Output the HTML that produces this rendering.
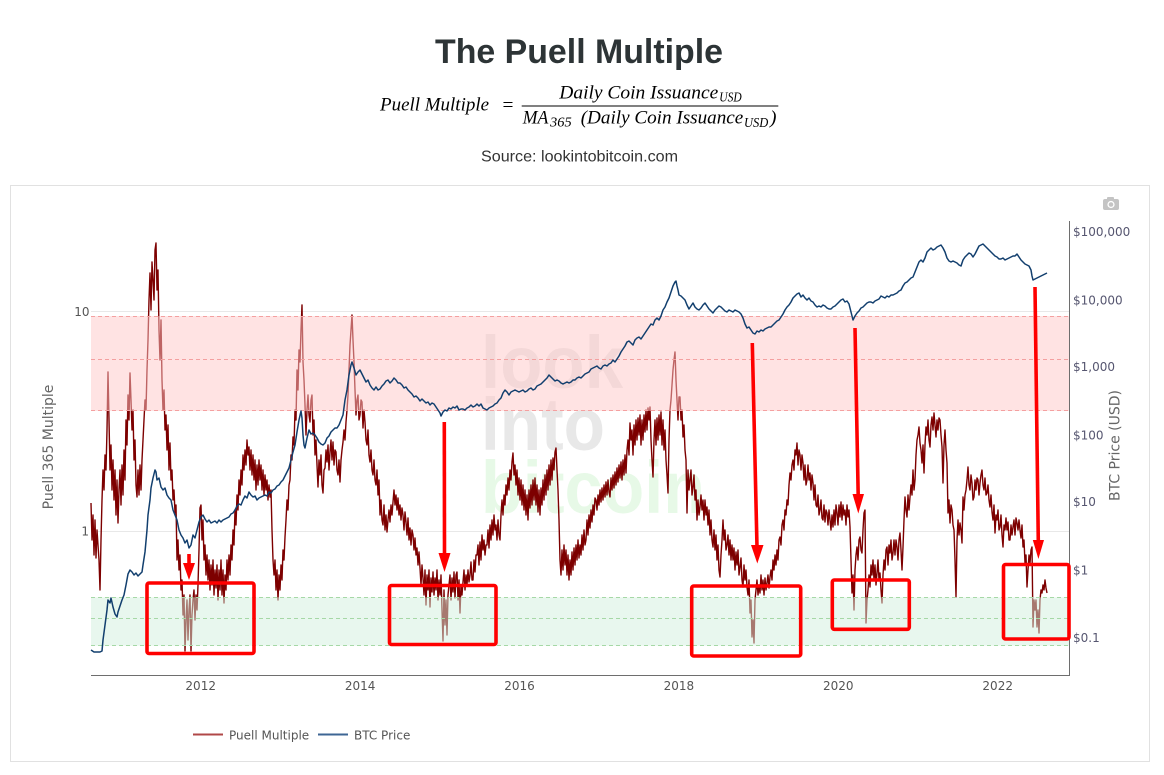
<!DOCTYPE html>
<html><head><meta charset="utf-8"><style>
html,body{margin:0;padding:0;background:#fff;}
svg{display:block;}
</style></head><body>
<svg width="1164" height="775" viewBox="0 0 1164 775" xmlns="http://www.w3.org/2000/svg">
<rect x="0" y="0" width="1164" height="775" fill="#fff"/>
<!-- Title -->
<text x="579" y="63" text-anchor="middle" font-family="Liberation Sans, Arial, sans-serif" font-weight="bold" font-size="34" textLength="288" lengthAdjust="spacingAndGlyphs" fill="#2d3436">The Puell Multiple</text>
<!-- Formula -->
<g font-family="Liberation Serif, DejaVu Serif, serif" fill="#000">
<text x="380" y="110.7" font-style="italic" font-size="19.4" textLength="109" lengthAdjust="spacingAndGlyphs">Puell Multiple</text>
<text x="502.5" y="111" font-size="19.4">=</text>
<line x1="521.7" y1="106" x2="778.3" y2="106" stroke="#000" stroke-width="0.9"/>
<text x="559.3" y="98.3" font-style="italic" font-size="19.4" textLength="159" lengthAdjust="spacingAndGlyphs">Daily Coin Issuance</text>
<text x="719.3" y="101.7" font-style="italic" font-size="13.5" textLength="22.4" lengthAdjust="spacingAndGlyphs">USD</text>
<text x="522.7" y="123.3" font-style="italic" font-size="19.4" textLength="25.6" lengthAdjust="spacingAndGlyphs">MA</text>
<text x="550" y="126.5" font-style="italic" font-size="13.5" textLength="21.7" lengthAdjust="spacingAndGlyphs">365</text>
<text x="580.7" y="123.3" font-style="italic" font-size="19.4" textLength="162.6" lengthAdjust="spacingAndGlyphs">(Daily Coin Issuance</text>
<text x="744" y="127" font-style="italic" font-size="13.5" textLength="24.3" lengthAdjust="spacingAndGlyphs">USD</text>
<text x="770" y="123.3" font-style="italic" font-size="19.4">)</text>
</g>
<text x="579.5" y="161.7" text-anchor="middle" font-family="Liberation Sans, Arial, sans-serif" font-size="16" textLength="197" lengthAdjust="spacingAndGlyphs" fill="#333">Source: lookintobitcoin.com</text>

<!-- Chart container -->
<rect x="10.5" y="185.5" width="1139" height="576" fill="#fff" stroke="#e1e1e1" stroke-width="1"/>

<!-- camera icon -->
<g fill="#c4c4c4">
<rect x="1103" y="199" width="16" height="11" rx="2"/>
<rect x="1107" y="197" width="7" height="3" rx="1"/>
<circle cx="1111" cy="204.5" r="3.6" fill="#fff"/>
<circle cx="1111" cy="204.5" r="2.3" fill="#c4c4c4"/>
</g>

<!-- watermark -->
<g font-family="Liberation Sans, Arial, sans-serif" font-weight="bold" font-size="74">
<text x="481" y="388" textLength="142" lengthAdjust="spacingAndGlyphs" fill="#e8e8e8">look</text>
<text x="481" y="450" textLength="124" lengthAdjust="spacingAndGlyphs" fill="#e8e8e8">into</text>
<text x="481" y="513" textLength="224" lengthAdjust="spacingAndGlyphs" fill="#e7f9e7">bitcoin</text>
</g>

<!-- gridlines -->
<line x1="91" y1="311.5" x2="1069" y2="311.5" stroke="#e8e8e8" stroke-width="1"/>
<line x1="91" y1="531.5" x2="1069" y2="531.5" stroke="#e8e8e8" stroke-width="1"/>

<!-- Puell Multiple -->
<polyline fill="none" stroke="#7d0000" stroke-width="1.4" stroke-linejoin="round" points="91,503 92,540 93,515 94,555 95,520 96,558 97,530 98,545 99,560 100,590 101,540 102,500 103,470 104,490 105,455 106,470 107,430 108,372 109,420 110,470 111,445 112,490 113,460 114,500 115,470 116,515 117,480 118,523 119,490 120,470 121,505 122,465 123,495 124,450 125,480 126,420 127,445 128,395 129,420 130,373 131,400 132,430 133,410 134,460 135,440 136,485 137,497 138,470 139,495 140,465 141,490 142,460 143,440 144,420 145,400 146,410 147,370 148,340 149,300 150,273 151,310 152,262 153,280 154,300 155,250 156,243 157,290 158,270 159,330 160,360 161,320 162,380 163,410 164,390 165,430 166,415 167,450 168,425 169,470 170,443 171,480 172,470 173,500 174,490 175,513 176,505 177,560 178,540 179,570 180,555 181,590 182,580 183,615 184,595 185,651 186,620 187,600 188,640 189,610 190,595 191,651 192,615 193,600 194,590 195,620 196,595 197,610 198,585 199,550 200,508 201,505 202,540 203,520 204,560 205,545 206,575 207,555 208,580 209,560 210,590 211,565 212,585 213,560 214,595 215,570 216,588 217,565 218,600 219,570 220,590 221,560 222,595 223,570 224,603 225,575 226,590 227,560 228,580 229,555 230,575 231,545 232,560 233,530 234,545 235,510 236,525 237,495 238,510 239,480 240,495 241,470 242,485 243,455 244,470 245,450 246,465 247,440 248,455 249,447 250,470 251,450 252,475 253,455 254,480 255,460 256,490 257,465 258,485 259,460 260,480 261,465 262,490 263,470 264,495 265,475 266,490 267,480 268,500 269,485 270,497 271,490 272,530 273,560 274,575 275,560 276,590 277,570 278,600 279,575 280,590 281,565 282,580 283,550 284,560 285,537 286,520 287,500 288,510 289,485 290,480 291,455 292,460 293,437 294,445 295,410 296,420 297,370 298,390 299,350 300,362 301,330 302,305 303,362 304,380 305,405 306,435 307,410 308,395 309,415 310,422 311,400 312,395 313,435 314,420 315,455 316,440 317,465 318,487 319,460 320,475 321,455 322,485 323,493 324,470 325,468 326,450 327,462 328,445 329,470 330,452 331,440 332,460 333,442 334,465 335,450 336,452 337,470 338,475 339,460 340,482 341,460 342,450 343,442 344,430 345,440 346,422 347,410 348,395 349,370 350,345 351,330 352,315 353,340 354,362 355,390 356,415 357,400 358,395 359,420 360,415 361,400 362,402 363,428 364,410 365,422 366,440 367,445 368,430 369,455 370,462 371,450 372,470 373,475 374,460 375,480 376,485 377,470 378,495 379,480 380,515 381,500 382,520 383,525 384,505 385,530 386,515 387,532 388,520 389,510 390,522 391,505 392,515 393,502 394,490 395,505 396,495 397,510 398,498 399,515 400,505 401,520 402,508 403,515 404,530 405,512 406,522 407,535 408,518 409,540 410,528 411,545 412,530 413,535 414,550 415,538 416,555 417,548 418,565 419,552 420,568 421,585 422,565 423,578 424,595 425,570 426,605 427,575 428,590 429,570 430,607 431,578 432,592 433,572 434,595 435,578 436,590 437,570 438,600 439,580 440,595 441,575 442,610 443,641 444,590 445,625 446,600 447,635 448,595 449,585 450,575 451,600 452,578 453,592 454,572 455,598 456,575 457,572 458,600 459,580 460,613 461,585 462,595 463,582 464,570 465,590 466,575 467,585 468,570 469,582 470,575 471,562 472,580 473,580 474,560 475,572 476,555 477,555 478,545 479,565 480,542 481,560 482,535 483,550 484,540 485,555 486,545 487,545 488,530 489,548 490,525 491,540 492,520 493,535 494,515 495,530 496,525 497,540 498,520 499,535 500,540 501,515 502,500 503,515 504,495 505,505 506,485 507,495 508,478 509,490 510,470 511,480 512,462 513,453 514,475 515,465 516,485 517,470 518,495 519,478 520,500 521,480 522,505 523,485 524,510 525,490 526,515 527,495 528,520 529,490 530,508 531,485 532,505 533,480 534,500 535,478 536,505 537,485 538,512 539,490 540,515 541,488 542,505 543,480 544,500 545,475 546,495 547,470 548,490 549,465 550,485 551,460 552,480 553,458 554,470 555,452 556,448 557,470 558,490 559,520 560,560 561,575 562,550 563,570 564,545 565,565 566,550 567,575 568,555 569,580 570,560 571,575 572,552 573,570 574,548 575,565 576,545 577,560 578,540 579,558 580,545 581,555 582,535 583,550 584,530 585,545 586,540 587,520 588,535 589,515 590,528 591,510 592,522 593,505 594,515 595,498 596,500 597,510 598,495 599,505 600,490 601,502 602,488 603,500 604,485 605,497 606,482 607,495 608,480 609,492 610,497 611,478 612,490 613,475 614,488 615,472 616,485 617,468 618,482 619,465 620,478 621,462 622,480 623,460 624,475 625,455 626,473 627,450 628,440 629,455 630,423 631,440 632,430 633,455 634,425 635,445 636,420 637,440 638,418 639,435 640,415 641,445 642,420 643,440 644,415 645,432 646,410 647,430 648,408 649,420 650,407 651,440 652,460 653,477 654,440 655,420 656,445 657,418 658,440 659,415 660,435 661,412 662,445 663,420 664,450 665,430 666,460 667,475 668,493 669,440 670,410 671,400 672,385 673,370 674,360 675,352 676,380 677,400 678,420 679,397 680,397 681,420 682,410 683,437 684,425 685,450 686,460 687,513 688,470 689,490 690,480 691,470 692,495 693,487 694,475 695,500 696,490 697,520 698,500 699,515 700,507 701,495 702,510 703,500 704,520 705,500 706,515 707,507 708,525 709,510 710,535 711,520 712,540 713,547 714,530 715,550 716,535 717,560 718,545 719,570 720,577 721,555 722,540 723,520 724,540 725,530 726,550 727,545 728,535 729,555 730,540 731,560 732,545 733,560 734,548 735,570 736,552 737,565 738,550 739,575 740,567 741,558 742,580 743,587 744,565 745,580 746,570 747,587 748,595 749,580 750,613 751,600 752,637 753,620 754,643 755,600 756,590 757,580 758,595 759,585 760,593 761,575 762,590 763,580 764,595 765,578 766,590 767,583 768,575 769,588 770,577 771,570 772,580 773,560 774,570 775,555 776,565 777,550 778,560 779,540 780,537 781,545 782,525 783,520 784,530 785,510 786,515 787,500 788,505 789,485 790,473 791,480 792,465 793,460 794,470 795,450 796,455 797,443 798,465 799,450 800,455 801,470 802,455 803,463 804,480 805,465 806,485 807,480 808,465 809,480 810,473 811,490 812,475 813,483 814,500 815,485 816,505 817,507 818,495 819,515 820,510 821,500 822,518 823,520 824,505 825,522 826,510 827,513 828,525 829,510 830,520 831,530 832,515 833,527 834,510 835,525 836,505 837,513 838,525 839,505 840,517 841,502 842,520 843,505 844,515 845,510 846,525 847,505 848,517 849,510 850,527 851,560 852,593 853,575 854,610 855,570 856,555 857,547 858,560 859,540 860,537 861,550 862,553 863,530 864,513 865,510 866,623 867,600 868,590 869,575 870,587 871,565 872,575 873,560 874,580 875,565 876,585 877,573 878,560 879,580 880,573 881,590 882,603 883,575 884,560 885,570 886,550 887,547 888,565 889,545 890,553 891,540 892,560 893,553 894,540 895,555 896,540 897,547 898,560 899,540 900,533 901,550 902,570 903,547 904,520 905,497 906,510 907,517 908,495 909,510 910,497 911,485 912,495 913,470 914,490 915,480 916,455 917,440 918,435 919,427 920,443 921,450 922,463 923,445 924,473 925,445 926,427 927,435 928,420 929,440 930,447 931,425 932,417 933,430 934,413 935,425 936,437 937,420 938,430 939,418 940,420 941,435 942,447 943,483 944,445 945,430 946,450 947,463 948,513 949,500 950,523 951,505 952,510 953,525 954,530 955,560 956,597 957,540 958,520 959,535 960,523 961,530 962,543 963,497 964,510 965,495 966,490 967,480 968,467 969,485 970,490 971,475 972,483 973,500 974,497 975,480 976,490 977,478 978,480 979,495 980,483 981,475 982,470 983,485 984,490 985,478 986,495 987,493 988,485 989,500 990,507 991,495 992,512 993,520 994,505 995,533 996,515 997,520 998,510 999,530 1000,527 1001,515 1002,535 1003,547 1004,525 1005,530 1006,518 1007,530 1008,522 1009,540 1010,540 1011,525 1012,535 1013,527 1014,520 1015,535 1016,518 1017,523 1018,530 1019,520 1020,530 1021,538 1022,525 1023,547 1024,540 1025,563 1026,555 1027,587 1028,570 1029,555 1030,563 1031,550 1032,547 1033,627 1034,600 1035,610 1036,600 1037,627 1038,610 1039,633 1040,600 1041,590 1042,593 1043,585 1044,590 1045,580 1046,588 1047,593"/>

<!-- Bands -->
<rect x="91" y="316" width="978" height="95" fill="rgb(255,200,200)" fill-opacity="0.5"/>
<rect x="91" y="597.3" width="978" height="48.4" fill="rgb(210,240,222)" fill-opacity="0.5"/>
<g stroke-width="1" stroke-dasharray="4,3" fill="none">
<line x1="91" y1="316.5" x2="1069" y2="316.5" stroke="#f4a0a0"/>
<line x1="91" y1="359.5" x2="1069" y2="359.5" stroke="#f4a0a0"/>
<line x1="91" y1="410.5" x2="1069" y2="410.5" stroke="#f4a0a0"/>
<line x1="91" y1="597.5" x2="1069" y2="597.5" stroke="#a6d8a6"/>
<line x1="91" y1="618.5" x2="1069" y2="618.5" stroke="#a6d8a6"/>
<line x1="91" y1="645.5" x2="1069" y2="645.5" stroke="#a6d8a6"/>
</g>

<!-- BTC Price -->
<polyline fill="none" stroke="#123f6e" stroke-width="1.5" stroke-linejoin="round" points="91,650 94,652 97,652 100,652 102,651 103,640 105,625 107,610 108,600 110,603 111,598 113,607 115,614 117,617 118,612 120,606 122,600 124,595 126,585 128,574 130,570 132,572 134,575 136,573 138,576 140,574 142,572 143,565 145,552 147,530 148,515 150,500 151,488 153,478 155,470 156,472 157,480 159,478 161,487 163,490 165,488 167,495 169,498 171,500 173,510 175,515 177,520 179,530 181,535 183,538 185,543 187,540 189,548 191,545 193,535 195,538 197,530 199,522 201,517 203,515 205,519 207,522 209,520 211,523 213,522 215,521 217,523 219,520 221,522 223,520 225,519 227,518 229,517 231,514 233,513 235,510 237,506 239,504 241,505 243,500 245,496 247,498 249,492 251,495 253,497 255,496 257,500 259,498 261,497 263,496 265,495 267,496 269,492 271,493 273,490 275,489 277,486 279,485 281,482 283,480 285,476 287,472 289,468 291,460 293,452 295,445 297,432 299,420 301,411 302,418 303,435 304,445 305,448 307,438 309,430 311,434 313,433 315,435 317,438 319,442 321,444 323,445 325,443 327,438 329,436 331,432 333,430 335,428 337,428 339,425 341,420 343,415 345,400 347,390 349,375 351,365 352,362 354,368 356,375 358,372 360,370 362,374 364,378 366,382 368,380 370,385 372,388 374,390 376,387 378,390 380,389 382,386 384,384 386,381 388,380 390,383 392,381 394,378 396,380 398,383 400,383 402,385 404,388 406,387 408,390 410,392 412,394 414,397 416,396 418,398 420,401 422,399 424,401 426,403 428,402 430,405 432,403 434,404 436,407 438,410 440,413 441,416 443,412 445,410 447,411 449,408 451,409 453,407 455,408 457,406 459,410 461,409 463,409 465,410 467,408 469,407 471,405 473,407 475,406 477,404 479,406 481,404 483,408 485,409 487,410 489,408 491,407 493,406 495,404 497,403 499,400 501,398 503,393 505,390 507,392 509,395 511,392 513,391 515,390 517,391 519,392 521,391 523,390 525,392 527,391 529,389 531,388 533,390 535,389 537,386 539,385 541,384 543,382 545,380 547,378 549,375 551,377 553,379 555,381 557,380 559,381 561,383 563,384 565,383 567,382 569,383 571,382 573,380 575,380 577,378 579,377 581,378 583,376 585,374 587,373 589,372 591,369 593,368 595,367 597,366 599,368 601,369 603,366 605,365 607,366 609,364 611,363 613,360 615,362 617,359 619,356 621,352 623,349 625,346 627,342 629,341 631,343 633,345 635,340 637,338 639,337 641,339 643,336 645,333 647,330 649,327 651,324 653,325 655,320 657,318 659,320 661,316 663,310 665,307 667,302 669,298 671,292 673,286 675,282 676,281 677,286 678,290 679,295 681,296 683,298 685,300 687,305 689,309 691,306 693,303 695,307 697,309 699,310 701,308 703,305 705,303 707,306 709,309 711,311 713,313 715,310 717,308 719,306 721,307 723,309 725,311 727,312 729,310 731,311 733,312 735,310 737,311 739,312 741,314 743,318 745,324 747,328 749,327 751,330 753,333 755,334 757,331 759,332 761,330 763,331 765,329 767,328 769,327 771,327 773,325 775,323 777,321 779,320 781,317 783,314 785,310 787,307 789,305 791,302 793,298 795,296 797,294 799,293 801,297 803,295 805,298 807,300 809,298 811,301 813,302 815,305 817,307 819,306 821,307 823,305 825,306 827,308 829,309 831,309 833,307 835,306 837,304 839,302 841,300 843,299 845,302 847,301 849,304 851,312 853,320 855,316 857,313 859,311 861,308 863,307 865,305 867,303 869,302 871,302 873,303 875,301 877,300 879,299 881,296 883,297 885,298 887,296 889,297 891,295 893,295 895,294 897,293 899,291 901,290 903,286 905,283 907,282 909,280 911,278 913,277 915,272 917,267 919,262 921,260 923,262 925,258 927,252 929,250 931,248 933,250 935,249 937,247 939,246 941,245 943,248 945,252 947,258 949,261 951,262 953,261 955,262 957,263 959,265 961,266 963,260 965,257 967,255 969,253 971,254 973,257 975,254 977,250 979,246 981,245 983,244 985,246 987,248 989,250 991,252 993,254 995,256 997,257 999,259 1001,259 1003,258 1005,260 1007,259 1009,258 1011,257 1013,256 1015,256 1017,254 1019,257 1021,260 1023,262 1025,264 1027,265 1029,266 1031,270 1032,276 1033,280 1035,279 1037,278 1039,277 1041,276 1043,275 1045,274 1047,273"/>

<!-- axes -->
<line x1="91" y1="675.5" x2="1069.5" y2="675.5" stroke="#6e6e6e" stroke-width="1"/>
<line x1="1069.5" y1="221" x2="1069.5" y2="676" stroke="#6e6e6e" stroke-width="1"/>

<!-- tick labels -->
<g font-family="DejaVu Sans, Verdana, sans-serif" font-size="12" fill="#555">
<text x="89.5" y="316" text-anchor="end">10</text>
<text x="89" y="535.5" text-anchor="end">1</text>
<g text-anchor="middle">
<text x="200.7" y="690">2012</text>
<text x="360.1" y="690">2014</text>
<text x="519.5" y="690">2016</text>
<text x="678.9" y="690">2018</text>
<text x="838.3" y="690">2020</text>
<text x="997.7" y="690">2022</text>
</g>
<g fill="#565670">
<text x="1073" y="236">$100,000</text>
<text x="1073" y="304.5">$10,000</text>
<text x="1073" y="371">$1,000</text>
<text x="1073" y="439.5">$100</text>
<text x="1073" y="506">$10</text>
<text x="1073" y="574.5">$1</text>
<text x="1073" y="642">$0.1</text>
</g>
</g>
<g font-family="DejaVu Sans, Verdana, sans-serif" font-size="14" fill="#666">
<text transform="translate(53,447) rotate(-90)" text-anchor="middle">Puell 365 Multiple</text>
<text transform="translate(1119.5,445.5) rotate(-90)" text-anchor="middle">BTC Price (USD)</text>
</g>

<!-- legend -->
<line x1="193" y1="734.5" x2="223" y2="734.5" stroke="#b04848" stroke-width="2"/>
<text x="229" y="739.3" font-family="DejaVu Sans, Verdana, sans-serif" font-size="12" fill="#555">Puell Multiple</text>
<line x1="318" y1="734.5" x2="348" y2="734.5" stroke="#3e6694" stroke-width="2"/>
<text x="354" y="739.3" font-family="DejaVu Sans, Verdana, sans-serif" font-size="12" fill="#555">BTC Price</text>

<!-- annotations -->
<g fill="none" stroke="#ff0000" stroke-width="3.6">
<rect x="147" y="583" width="107" height="70.5" rx="2"/>
<rect x="389.5" y="585.5" width="106.5" height="59" rx="2"/>
<rect x="691.7" y="586" width="109" height="70" rx="2"/>
<rect x="832.3" y="580" width="77" height="49.3" rx="2"/>
<rect x="1003.5" y="564.5" width="65.5" height="74.5" rx="2"/>
<line x1="189" y1="554" x2="189" y2="565"/>
<line x1="444.3" y1="422" x2="444.5" y2="556"/>
<line x1="752.3" y1="343" x2="757" y2="547"/>
<line x1="855" y1="328" x2="858.2" y2="496"/>
<line x1="1035" y1="287" x2="1038.3" y2="542"/>
</g>
<g fill="#ff0000">
<polygon points="183,563 195,563 189,580"/>
<polygon points="438.5,553 450.5,553 444.5,572"/>
<polygon points="751,545 763.5,545 757.3,563.5"/>
<polygon points="852.5,494 864,494 858.3,513.5"/>
<polygon points="1032.8,540 1044,540 1038.4,559"/>
</g>
</svg>
</body></html>
